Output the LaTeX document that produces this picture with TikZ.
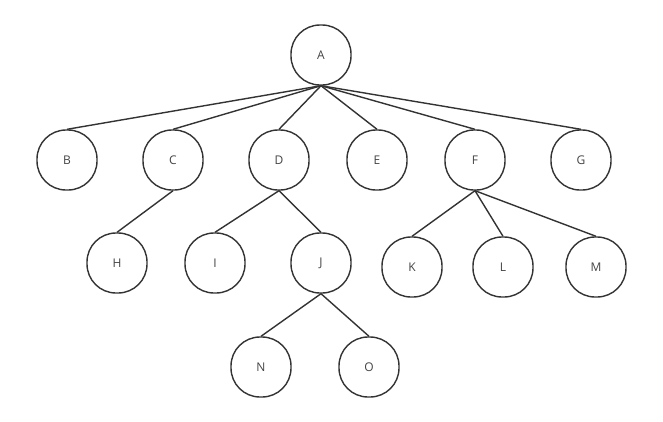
\documentclass[tikz,border=0pt]{standalone}
\usepackage{fontspec}
\setmainfont{Open Sans}
\definecolor{ln}{HTML}{333333}
\definecolor{tx}{HTML}{444444}
\tikzset{
  tn/.style={draw=ln, line width=1.4pt, rectangle, rounded corners=29pt,
    minimum width=60pt, minimum height=60pt, inner sep=0pt,
    text=tx, font=\fontsize{12pt}{14pt}\selectfont},
  ed/.style={draw=ln, line width=1.4pt}
}
\begin{document}
\begin{tikzpicture}[x=1pt,y=-1pt]
\useasboundingbox (0,0) rectangle (663,421);
\node[tn] (A) at (321,55) {A};
\node[tn] (B) at (67,160) {B};
\node[tn] (C) at (173,160) {C};
\node[tn] (D) at (279,160) {D};
\node[tn] (E) at (377,160) {E};
\node[tn] (F) at (475,160) {F};
\node[tn] (G) at (581,160) {G};
\node[tn] (H) at (117,263) {H};
\node[tn] (I) at (215,263) {I};
\node[tn] (J) at (321,263) {J};
\node[tn] (K) at (412,267) {K};
\node[tn] (L) at (503,267) {L};
\node[tn] (M) at (596,267) {M};
\node[tn] (N) at (261,367) {N};
\node[tn] (O) at (369,367) {O};
\foreach \c in {B,C,D,E,F,G} \draw[ed] (A.south) -- (\c.north);
\draw[ed] (C.south) -- (H.north);
\draw[ed] (D.south) -- (I.north);
\draw[ed] (D.south) -- (J.north);
\foreach \c in {K,L,M} \draw[ed] (F.south) -- (\c.north);
\draw[ed] (J.south) -- (N.north);
\draw[ed] (J.south) -- (O.north);
\end{tikzpicture}
\end{document}
